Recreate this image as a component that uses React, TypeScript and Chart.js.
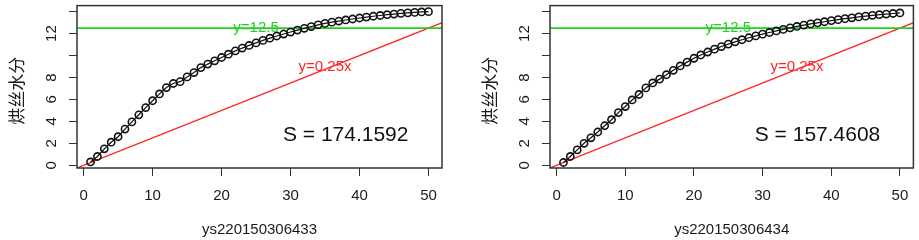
import React, { useEffect, useRef } from "react";
import { Chart, registerables } from "chart.js";

Chart.register(...registerables);

// ---- data ----
const X_VALUES = [
  1, 2, 3, 4, 5, 6, 7, 8, 9, 10, 11, 12, 13, 14, 15, 16, 17, 18, 19, 20, 21, 22, 23, 24, 25,
  26, 27, 28, 29, 30, 31, 32, 33, 34, 35, 36, 37, 38, 39, 40, 41, 42, 43, 44, 45, 46, 47, 48, 49, 50,
];
const SERIES_433 = [
  0.3, 0.8, 1.5, 2.1, 2.6, 3.3, 3.95, 4.6, 5.25, 5.88, 6.5, 7.08, 7.45, 7.62, 8.05, 8.45, 8.9, 9.22,
  9.52, 9.82, 10.12, 10.42, 10.68, 10.92, 11.15, 11.38, 11.58, 11.78, 11.96, 12.14, 12.32, 12.48,
  12.64, 12.8, 12.93, 13.04, 13.14, 13.24, 13.33, 13.42, 13.5, 13.58, 13.65, 13.72, 13.78, 13.84,
  13.89, 13.93, 13.97, 14.0,
];
const SERIES_434 = [
  0.25, 0.8, 1.4, 2.0, 2.5, 3.03, 3.6, 4.15, 4.8, 5.35, 5.95, 6.45, 7.05, 7.5, 7.85, 8.25, 8.65,
  9.05, 9.4, 9.75, 10.05, 10.32, 10.58, 10.82, 11.04, 11.25, 11.44, 11.62, 11.79, 11.95, 12.1,
  12.24, 12.38, 12.52, 12.65, 12.77, 12.88, 12.98, 13.08, 13.18, 13.27, 13.36, 13.44, 13.52, 13.59,
  13.66, 13.72, 13.78, 13.83, 13.88,
];
const SAMPLE_NAMES = ["ys220150306433", "ys220150306434"];
const S_LABELS = ["S = 174.1592", "S = 157.4608"];
const Y_TITLE = "烘丝水分";
const X_TICKS = [0, 10, 20, 30, 40, 50];
const X_TICK_LABELS = ["0", "10", "20", "30", "40", "50"];
const Y_TICKS = [0, 2, 4, 6, 8, 10, 12, 14];
const Y_TICK_LABELS = ["0", "2", "4", "6", "8", "", "12", ""];
const H_LINE_VALUE = 12.5;
const H_LINE_LABEL = "y=12.5";
const SLOPE = 0.25;
const SLOPE_LABEL = "y=0.25x";
const REF_X = [-5, 60];
const H_LABEL_POS = [25, 12.5];
const SLOPE_LABEL_POS = [35, 9];
const S_LABEL_POS = [38, 2.7];

const X_MIN = -0.96;
const X_MAX = 51.96;
const Y_MIN = -0.25;
const Y_MAX = 14.55;

const FONT = '"Liberation Sans", Arial, sans-serif';
const GREEN = "#22d022";
const RED = "#ff2424";

function makePlugin(name: string, sLabel: string) {
  return {
    id: "rframe",
    afterDraw(chart: any) {
      const { ctx, chartArea: a, scales } = chart;
      const xs = scales.x;
      const ys = scales.y;
      ctx.save();
      // box
      ctx.strokeStyle = "#333";
      ctx.lineWidth = 1.5;
      ctx.strokeRect(a.left, a.top, a.right - a.left, a.bottom - a.top);

      // y tick labels (rotated)
      ctx.fillStyle = "#1a1a1a";
      ctx.font = `15px ${FONT}`;
      ctx.textAlign = "center";
      ctx.textBaseline = "middle";
      Y_TICKS.forEach((v, i) => {
        const lab = Y_TICK_LABELS[i];
        if (!lab) return;
        ctx.save();
        ctx.translate(a.left - 25, ys.getPixelForValue(v));
        ctx.rotate(-Math.PI / 2);
        ctx.fillText(lab, 0, 0);
        ctx.restore();
      });
      // x tick labels
      X_TICKS.forEach((v, i) => {
        ctx.fillText(X_TICK_LABELS[i], xs.getPixelForValue(v), 196);
      });
      // x title
      ctx.fillText(name, (a.left + a.right) / 2, 230);
      // y title
      ctx.save();
      ctx.font = `17px "Noto Sans CJK SC", sans-serif`;
      ctx.translate(a.left - 60, (a.top + a.bottom) / 2 + 4);
      ctx.rotate(-Math.PI / 2);
      ctx.fillText(Y_TITLE, 0, 0);
      ctx.restore();

      // annotations
      ctx.font = `15px ${FONT}`;
      ctx.fillStyle = GREEN;
      ctx.fillText(H_LINE_LABEL, xs.getPixelForValue(H_LABEL_POS[0]), ys.getPixelForValue(H_LABEL_POS[1]));
      ctx.fillStyle = RED;
      ctx.fillText(SLOPE_LABEL, xs.getPixelForValue(SLOPE_LABEL_POS[0]), ys.getPixelForValue(SLOPE_LABEL_POS[1]));
      ctx.fillStyle = "#111";
      ctx.font = `21px ${FONT}`;
      ctx.fillText(sLabel, xs.getPixelForValue(S_LABEL_POS[0]), ys.getPixelForValue(S_LABEL_POS[1]));
      ctx.restore();
    },
  };
}

function Panel(props: {
  series: number[];
  name: string;
  sLabel: string;
  yAxisWidth: number;
  padRight: number;
  width: number;
  left: number;
}) {
  const ref = useRef<HTMLCanvasElement | null>(null);
  useEffect(() => {
    if (!ref.current) return;
    const points = X_VALUES.map((x, i) => ({ x, y: props.series[i] }));
    const slopeLine = REF_X.map((x) => ({ x, y: SLOPE * x }));
    const hLine = REF_X.map((x) => ({ x, y: H_LINE_VALUE }));
    const gridOpts = {
      drawOnChartArea: false,
      drawTicks: true,
      tickLength: 8,
      color: "#333",
      lineWidth: 1,
    };
    const chart = new Chart(ref.current, {
      type: "scatter",
      data: {
        datasets: [
          {
            data: points,
            showLine: true,
            borderColor: "#111",
            borderWidth: 1.2,
            pointRadius: 3.6,
            pointBorderWidth: 1.6,
            pointBorderColor: "#111",
            pointBackgroundColor: "rgba(0,0,0,0)",
            pointStyle: "circle",
          },
          {
            data: hLine,
            showLine: true,
            borderColor: GREEN,
            borderWidth: 1.8,
            pointRadius: 0,
          },
          {
            data: slopeLine,
            showLine: true,
            borderColor: RED,
            borderWidth: 1.4,
            pointRadius: 0,
          },
        ],
      },
      options: {
        animation: false,
        responsive: false,
        devicePixelRatio: 1,
        layout: { padding: { left: 0, top: 4, right: props.padRight, bottom: 0 } },
        plugins: { legend: { display: false }, tooltip: { enabled: false } },
        scales: {
          x: {
            type: "linear",
            min: X_MIN,
            max: X_MAX,
            afterBuildTicks: (s: any) => {
              s.ticks = X_TICKS.map((v) => ({ value: v }));
            },
            afterFit: (s: any) => {
              s.height = 72;
            },
            ticks: { display: false },
            grid: gridOpts,
            border: { display: false },
          },
          y: {
            type: "linear",
            min: Y_MIN,
            max: Y_MAX,
            afterBuildTicks: (s: any) => {
              s.ticks = Y_TICKS.map((v) => ({ value: v }));
            },
            afterFit: (s: any) => {
              s.width = props.yAxisWidth;
            },
            ticks: { display: false },
            grid: gridOpts,
            border: { display: false },
          },
        },
      } as any,
      plugins: [makePlugin(props.name, props.sLabel)],
    });
    return () => chart.destroy();
  }, []);
  return (
    <canvas
      ref={ref}
      width={props.width}
      height={240}
      style={{ position: "absolute", left: props.left, top: 0, width: props.width, height: 240, display: "block" }}
    />
  );
}

export default function App() {
  return (
    <div style={{ position: "fixed", left: 0, top: 0, width: 919, height: 240, background: "#fff", overflow: "hidden" }}>
      <Panel series={SERIES_433} name={SAMPLE_NAMES[0]} sLabel={S_LABELS[0]} yAxisWidth={77} padRight={18} width={460} left={0} />
      <Panel series={SERIES_434} name={SAMPLE_NAMES[1]} sLabel={S_LABELS[1]} yAxisWidth={90} padRight={4} width={459} left={460} />
    </div>
  );
}
